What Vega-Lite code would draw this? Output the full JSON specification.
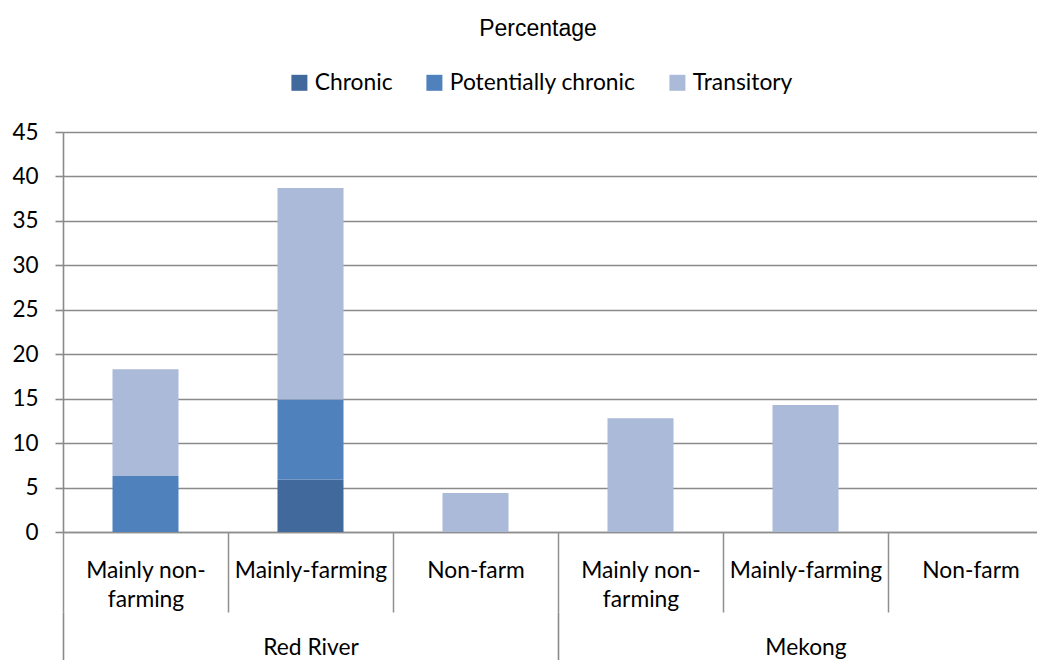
{
  "$schema": "https://vega.github.io/schema/vega-lite/v6.json",
  "width": 974,
  "height": 400,
  "autosize": {"type": "none"},
  "padding": {"left": 63, "top": 132, "right": 0, "bottom": 128},
  "background": "white",
  "config": {"view": {"stroke": null}, "font": "Lato"},
  "title": {
    "text": "Percentage",
    "font": "Liberation Sans",
    "fontSize": 23,
    "fontWeight": "normal",
    "color": "black",
    "anchor": "middle",
    "frame": "group",
    "baseline": "alphabetic",
    "dx": -12,
    "offset": 12
  },
  "data": {
    "values": [
      {"region": "Red River", "bar": "Red River|Mainly non-farming", "series": "Potentially chronic", "value": 6.3},
      {"region": "Red River", "bar": "Red River|Mainly non-farming", "series": "Transitory", "value": 12.0},
      {"region": "Red River", "bar": "Red River|Mainly-farming", "series": "Chronic", "value": 5.9},
      {"region": "Red River", "bar": "Red River|Mainly-farming", "series": "Potentially chronic", "value": 9.0},
      {"region": "Red River", "bar": "Red River|Mainly-farming", "series": "Transitory", "value": 23.8},
      {"region": "Red River", "bar": "Red River|Non-farm", "series": "Transitory", "value": 4.4},
      {"region": "Mekong", "bar": "Mekong|Mainly non-farming", "series": "Transitory", "value": 12.8},
      {"region": "Mekong", "bar": "Mekong|Mainly-farming", "series": "Transitory", "value": 14.3},
      {"region": "Mekong", "bar": "Mekong|Non-farm", "series": "Transitory", "value": 0}
    ]
  },
  "layer": [
    {
      "mark": {"type": "bar", "width": {"band": 0.4}},
      "encoding": {
        "x": {
          "field": "bar",
          "type": "nominal",
          "sort": null,
          "scale": {"range": [0, 990], "paddingInner": 0, "paddingOuter": 0},
          "axis": {
            "title": null,
            "orient": "bottom",
            "grid": false,
            "tickBand": "extent",
            "tickSize": 80,
            "tickColor": "#8f8f8f",
            "tickWidth": 1.5,
            "domainColor": "#8f8f8f",
            "domainWidth": 1.5,
            "labelAngle": 0,
            "labelOverlap": false,
            "labelFont": "Lato",
            "labelFontSize": 22.8,
            "labelColor": "black",
            "labelBaseline": "top",
            "labelLineHeight": 29,
            "labelPadding": -53,
            "labelExpr": "split(datum.label, '|')[1] == 'Mainly non-farming' ? ['Mainly non-', 'farming'] : split(datum.label, '|')[1]"
          }
        },
        "y": {
          "field": "value",
          "type": "quantitative",
          "stack": "zero",
          "scale": {"domain": [0, 45]},
          "axis": {
            "title": null,
            "values": [0, 5, 10, 15, 20, 25, 30, 35, 40, 45],
            "grid": true,
            "gridColor": "#8a8a8a",
            "gridWidth": 1.6,
            "domainColor": "#8a8a8a",
            "domainWidth": 1.6,
            "tickColor": "#8a8a8a",
            "tickWidth": 1.6,
            "tickSize": 8,
            "labelFont": "Lato",
            "labelFontSize": 22.5,
            "labelColor": "black",
            "labelPadding": 17
          }
        },
        "order": {"field": "series", "sort": "ascending"},
        "color": {
          "field": "series",
          "type": "nominal",
          "scale": {
            "domain": ["Chronic", "Potentially chronic", "Transitory"],
            "range": ["#41699b", "#4f81bd", "#aabad8"]
          },
          "legend": {
            "title": null,
            "orient": "none",
            "legendX": 225,
            "legendY": -61,
            "direction": "horizontal",
            "symbolType": "square",
            "symbolSize": 256,
            "symbolStrokeWidth": 0,
            "symbolOpacity": 1,
            "labelFont": "Lato",
            "labelFontSize": 22.8,
            "labelColor": "black",
            "labelOffset": 4,
            "labelLimit": 400,
            "columnPadding": 30
          }
        }
      }
    },
    {
      "mark": {"type": "text", "text": ""},
      "encoding": {
        "x": {
          "field": "region",
          "type": "nominal",
          "sort": null,
          "scale": {"range": [0, 990], "paddingInner": 0, "paddingOuter": 0},
          "axis": {
            "title": null,
            "orient": "bottom",
            "offset": 80,
            "domain": false,
            "grid": false,
            "tickBand": "extent",
            "tickSize": 48,
            "tickColor": "#8a8a8a",
            "tickWidth": 1.6,
            "labelAngle": 0,
            "labelOverlap": false,
            "labelFont": "Lato",
            "labelFontSize": 22.8,
            "labelColor": "black",
            "labelBaseline": "top",
            "labelPadding": -24
          }
        }
      }
    }
  ],
  "resolve": {"scale": {"x": "independent"}, "axis": {"x": "independent"}}
}
